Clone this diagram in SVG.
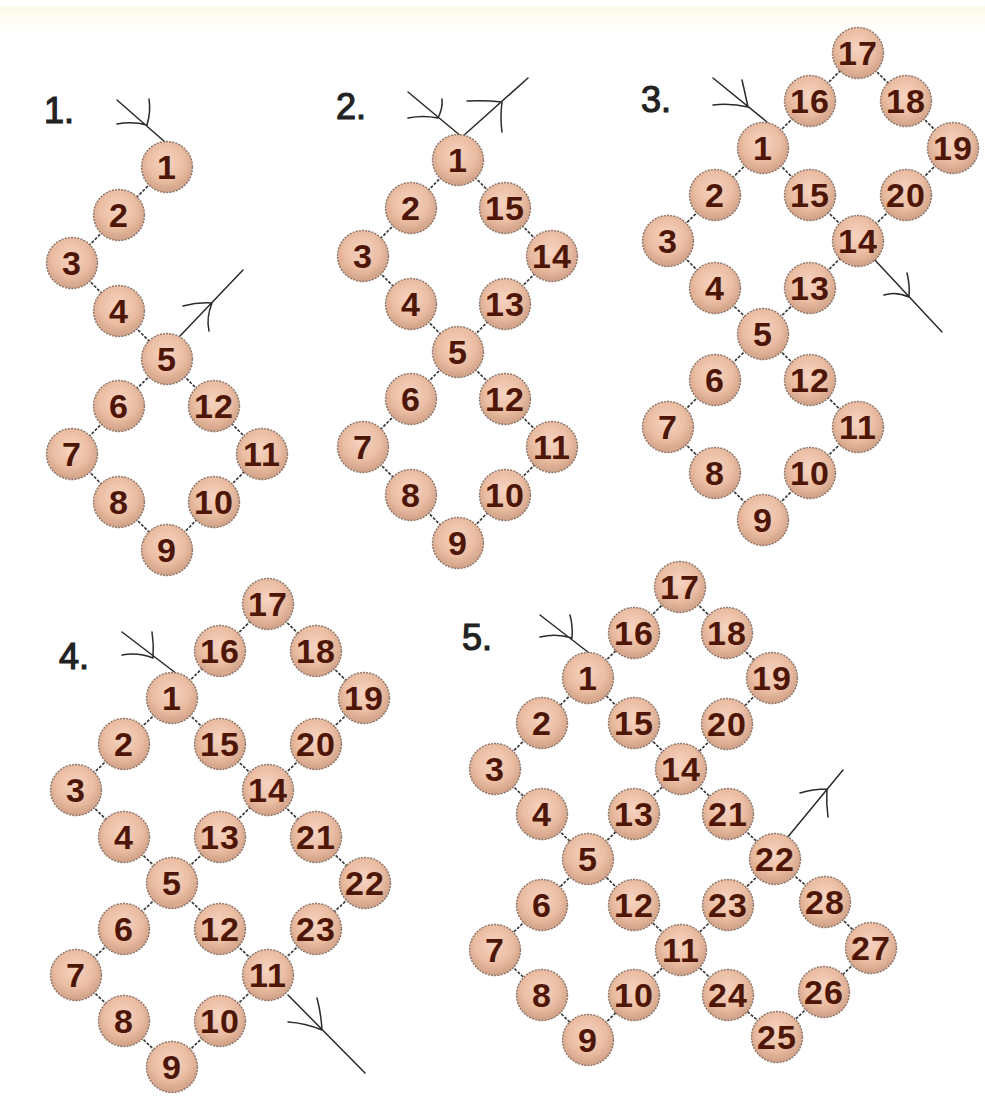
<svg xmlns="http://www.w3.org/2000/svg" width="985" height="1113" viewBox="0 0 985 1113">
<defs>
<radialGradient id="bg" cx="0.48" cy="0.4" r="0.65">
<stop offset="0" stop-color="#f6d4c2"/>
<stop offset="0.55" stop-color="#ebbda3"/>
<stop offset="1" stop-color="#c99a80"/>
</radialGradient>
<linearGradient id="top" x1="0" y1="0" x2="0" y2="1">
<stop offset="0" stop-color="#fdf9e6"/>
<stop offset="1" stop-color="#ffffff"/>
</linearGradient>
</defs>
<style>
.bead circle{fill:url(#bg);stroke:#8a7468;stroke-width:1.4;stroke-dasharray:2 1.2}
.bead text{font-family:"Liberation Sans",Arial,sans-serif;font-weight:bold;font-size:34px;fill:#4e1606;text-anchor:middle;letter-spacing:1px}
.conn line{stroke:#3a3a3a;stroke-width:1.7;stroke-dasharray:3 1.5}
.arr path{stroke:#2a2a2a;stroke-width:1.5;fill:none;stroke-linecap:round}
.lbl{font-family:"Liberation Sans",Arial,sans-serif;font-size:36px;fill:#222;stroke:#222;stroke-width:1.2}
</style>
<rect width="985" height="1113" fill="#ffffff"/>
<rect x="0" y="6" width="985" height="26" fill="url(#top)"/>

<g id="labels">
<text class="lbl" x="44" y="123">1.</text>
<text class="lbl" x="336" y="119">2.</text>
<text class="lbl" x="641" y="112">3.</text>
<text class="lbl" x="59" y="669">4.</text>
<text class="lbl" x="462" y="650">5.</text>
</g>

<g id="connectors" class="conn">
<!-- diagram 1 -->
<line x1="167" y1="167" x2="119" y2="215"/>
<line x1="119" y1="215" x2="72" y2="263"/>
<line x1="72" y1="263" x2="119" y2="311"/>
<line x1="119" y1="311" x2="167" y2="359"/>
<line x1="167" y1="359" x2="119" y2="406"/>
<line x1="119" y1="406" x2="72" y2="454"/>
<line x1="72" y1="454" x2="119" y2="502"/>
<line x1="119" y1="502" x2="167" y2="550"/>
<line x1="167" y1="550" x2="214" y2="502"/>
<line x1="214" y1="502" x2="262" y2="454"/>
<line x1="262" y1="454" x2="214" y2="406"/>
<line x1="214" y1="406" x2="167" y2="359"/>
<!-- diagram 2 -->
<line x1="458" y1="160" x2="411" y2="208"/>
<line x1="411" y1="208" x2="363" y2="256"/>
<line x1="363" y1="256" x2="411" y2="304"/>
<line x1="411" y1="304" x2="458" y2="352"/>
<line x1="458" y1="352" x2="411" y2="399"/>
<line x1="411" y1="399" x2="363" y2="447"/>
<line x1="363" y1="447" x2="411" y2="495"/>
<line x1="411" y1="495" x2="458" y2="543"/>
<line x1="458" y1="543" x2="505" y2="495"/>
<line x1="505" y1="495" x2="552" y2="447"/>
<line x1="552" y1="447" x2="505" y2="399"/>
<line x1="505" y1="399" x2="458" y2="352"/>
<line x1="458" y1="352" x2="505" y2="304"/>
<line x1="505" y1="304" x2="552" y2="256"/>
<line x1="552" y1="256" x2="505" y2="208"/>
<line x1="505" y1="208" x2="458" y2="160"/>
<!-- diagram 3 -->
<line x1="763" y1="148" x2="715" y2="195"/>
<line x1="715" y1="195" x2="668" y2="241"/>
<line x1="668" y1="241" x2="715" y2="288"/>
<line x1="715" y1="288" x2="763" y2="334"/>
<line x1="763" y1="334" x2="715" y2="380"/>
<line x1="715" y1="380" x2="668" y2="427"/>
<line x1="668" y1="427" x2="715" y2="473"/>
<line x1="715" y1="473" x2="763" y2="520"/>
<line x1="763" y1="520" x2="810" y2="473"/>
<line x1="810" y1="473" x2="858" y2="427"/>
<line x1="858" y1="427" x2="810" y2="380"/>
<line x1="810" y1="380" x2="763" y2="334"/>
<line x1="763" y1="334" x2="810" y2="288"/>
<line x1="810" y1="288" x2="858" y2="241"/>
<line x1="858" y1="241" x2="810" y2="195"/>
<line x1="810" y1="195" x2="763" y2="148"/>
<line x1="763" y1="148" x2="810" y2="101"/>
<line x1="810" y1="101" x2="858" y2="53"/>
<line x1="858" y1="53" x2="906" y2="101"/>
<line x1="906" y1="101" x2="953" y2="148"/>
<line x1="953" y1="148" x2="906" y2="195"/>
<line x1="906" y1="195" x2="858" y2="241"/>
<!-- diagram 4 -->
<line x1="172" y1="698" x2="124" y2="744"/>
<line x1="124" y1="744" x2="76" y2="790"/>
<line x1="76" y1="790" x2="124" y2="837"/>
<line x1="124" y1="837" x2="172" y2="883"/>
<line x1="172" y1="883" x2="124" y2="929"/>
<line x1="124" y1="929" x2="76" y2="975"/>
<line x1="76" y1="975" x2="124" y2="1021"/>
<line x1="124" y1="1021" x2="172" y2="1067"/>
<line x1="172" y1="1067" x2="220" y2="1021"/>
<line x1="220" y1="1021" x2="268" y2="975"/>
<line x1="268" y1="975" x2="220" y2="929"/>
<line x1="220" y1="929" x2="172" y2="883"/>
<line x1="172" y1="883" x2="220" y2="837"/>
<line x1="220" y1="837" x2="268" y2="790"/>
<line x1="268" y1="790" x2="220" y2="744"/>
<line x1="220" y1="744" x2="172" y2="698"/>
<line x1="172" y1="698" x2="220" y2="651"/>
<line x1="220" y1="651" x2="268" y2="604"/>
<line x1="268" y1="604" x2="316" y2="651"/>
<line x1="316" y1="651" x2="364" y2="698"/>
<line x1="364" y1="698" x2="316" y2="744"/>
<line x1="316" y1="744" x2="268" y2="790"/>
<line x1="268" y1="790" x2="316" y2="837"/>
<line x1="316" y1="837" x2="365" y2="883"/>
<line x1="365" y1="883" x2="316" y2="929"/>
<line x1="316" y1="929" x2="268" y2="975"/>
<!-- diagram 5 -->
<line x1="588" y1="678" x2="542" y2="723"/>
<line x1="542" y1="723" x2="495" y2="769"/>
<line x1="495" y1="769" x2="542" y2="814"/>
<line x1="542" y1="814" x2="588" y2="859"/>
<line x1="588" y1="859" x2="542" y2="905"/>
<line x1="542" y1="905" x2="495" y2="950"/>
<line x1="495" y1="950" x2="542" y2="995"/>
<line x1="542" y1="995" x2="588" y2="1040"/>
<line x1="588" y1="1040" x2="634" y2="995"/>
<line x1="634" y1="995" x2="681" y2="950"/>
<line x1="681" y1="950" x2="634" y2="905"/>
<line x1="634" y1="905" x2="588" y2="859"/>
<line x1="588" y1="859" x2="634" y2="814"/>
<line x1="634" y1="814" x2="681" y2="769"/>
<line x1="681" y1="769" x2="634" y2="723"/>
<line x1="634" y1="723" x2="588" y2="678"/>
<line x1="588" y1="678" x2="634" y2="633"/>
<line x1="634" y1="633" x2="680" y2="587"/>
<line x1="680" y1="587" x2="727" y2="633"/>
<line x1="727" y1="633" x2="772" y2="678"/>
<line x1="772" y1="678" x2="727" y2="724"/>
<line x1="727" y1="724" x2="681" y2="769"/>
<line x1="681" y1="769" x2="728" y2="814"/>
<line x1="728" y1="814" x2="775" y2="859"/>
<line x1="775" y1="859" x2="728" y2="905"/>
<line x1="728" y1="905" x2="681" y2="950"/>
<line x1="775" y1="859" x2="825" y2="902"/>
<line x1="825" y1="902" x2="871" y2="948"/>
<line x1="871" y1="948" x2="824" y2="992"/>
<line x1="824" y1="992" x2="777" y2="1037"/>
<line x1="777" y1="1037" x2="728" y2="995"/>
<line x1="728" y1="995" x2="681" y2="950"/>
</g>

<g id="arrows" class="arr">
<path d="M117,100 L165,142 M147,125 Q132,121 117,124 M147,125 Q151,112 149,99"/>
<path d="M180,336 L243,270 M212,303 Q198,302 183,306 M212,303 Q206,318 209,331"/>
<path d="M408,92 L462,137 M438,118 Q423,115 408,118 M438,118 Q443,108 442,99"/>
<path d="M462,137 L528,78 M502,102 Q485,100 467,101 M502,102 Q500,118 502,132"/>
<path d="M713,78 L767,122 M748,107 Q731,103 713,105 M748,107 Q745,93 742,80"/>
<path d="M873,258 L942,332 M909,297 Q896,291 884,295 M909,297 Q910,285 907,273"/>
<path d="M122,632 L177,674 M153,658 Q138,652 122,655 M153,658 Q154,645 152,632"/>
<path d="M288,995 L365,1073 M322,1030 Q305,1023 288,1022 M322,1030 Q321,1013 317,998"/>
<path d="M540,615 L593,656 M572,638 Q556,633 540,637 M572,638 Q573,626 570,615"/>
<path d="M787,838 L843,770 M827,789 Q813,789 800,793 M827,789 Q826,803 828,817"/>
</g>

<g id="diagram1">
<g id="d1-n1" class="bead"><circle cx="167" cy="167" r="25.5"/><text x="167" y="179">1</text></g>
<g id="d1-n2" class="bead"><circle cx="119" cy="215" r="25.5"/><text x="119" y="227">2</text></g>
<g id="d1-n3" class="bead"><circle cx="72" cy="263" r="25.5"/><text x="72" y="275">3</text></g>
<g id="d1-n4" class="bead"><circle cx="119" cy="311" r="25.5"/><text x="119" y="323">4</text></g>
<g id="d1-n5" class="bead"><circle cx="167" cy="359" r="25.5"/><text x="167" y="371">5</text></g>
<g id="d1-n6" class="bead"><circle cx="119" cy="406" r="25.5"/><text x="119" y="418">6</text></g>
<g id="d1-n7" class="bead"><circle cx="72" cy="454" r="25.5"/><text x="72" y="466">7</text></g>
<g id="d1-n8" class="bead"><circle cx="119" cy="502" r="25.5"/><text x="119" y="514">8</text></g>
<g id="d1-n9" class="bead"><circle cx="167" cy="550" r="25.5"/><text x="167" y="562">9</text></g>
<g id="d1-n10" class="bead"><circle cx="214" cy="502" r="25.5"/><text x="214" y="514">10</text></g>
<g id="d1-n11" class="bead"><circle cx="262" cy="454" r="25.5"/><text x="262" y="466">11</text></g>
<g id="d1-n12" class="bead"><circle cx="214" cy="406" r="25.5"/><text x="214" y="418">12</text></g>
</g>

<g id="diagram2">
<g id="d2-n1" class="bead"><circle cx="458" cy="160" r="25.5"/><text x="458" y="172">1</text></g>
<g id="d2-n2" class="bead"><circle cx="411" cy="208" r="25.5"/><text x="411" y="220">2</text></g>
<g id="d2-n3" class="bead"><circle cx="363" cy="256" r="25.5"/><text x="363" y="268">3</text></g>
<g id="d2-n4" class="bead"><circle cx="411" cy="304" r="25.5"/><text x="411" y="316">4</text></g>
<g id="d2-n5" class="bead"><circle cx="458" cy="352" r="25.5"/><text x="458" y="364">5</text></g>
<g id="d2-n6" class="bead"><circle cx="411" cy="399" r="25.5"/><text x="411" y="411">6</text></g>
<g id="d2-n7" class="bead"><circle cx="363" cy="447" r="25.5"/><text x="363" y="459">7</text></g>
<g id="d2-n8" class="bead"><circle cx="411" cy="495" r="25.5"/><text x="411" y="507">8</text></g>
<g id="d2-n9" class="bead"><circle cx="458" cy="543" r="25.5"/><text x="458" y="555">9</text></g>
<g id="d2-n10" class="bead"><circle cx="505" cy="495" r="25.5"/><text x="505" y="507">10</text></g>
<g id="d2-n11" class="bead"><circle cx="552" cy="447" r="25.5"/><text x="552" y="459">11</text></g>
<g id="d2-n12" class="bead"><circle cx="505" cy="399" r="25.5"/><text x="505" y="411">12</text></g>
<g id="d2-n13" class="bead"><circle cx="505" cy="304" r="25.5"/><text x="505" y="316">13</text></g>
<g id="d2-n14" class="bead"><circle cx="552" cy="256" r="25.5"/><text x="552" y="268">14</text></g>
<g id="d2-n15" class="bead"><circle cx="505" cy="208" r="25.5"/><text x="505" y="220">15</text></g>
</g>

<g id="diagram3">
<g id="d3-n1" class="bead"><circle cx="763" cy="148" r="25.5"/><text x="763" y="160">1</text></g>
<g id="d3-n2" class="bead"><circle cx="715" cy="195" r="25.5"/><text x="715" y="207">2</text></g>
<g id="d3-n3" class="bead"><circle cx="668" cy="241" r="25.5"/><text x="668" y="253">3</text></g>
<g id="d3-n4" class="bead"><circle cx="715" cy="288" r="25.5"/><text x="715" y="300">4</text></g>
<g id="d3-n5" class="bead"><circle cx="763" cy="334" r="25.5"/><text x="763" y="346">5</text></g>
<g id="d3-n6" class="bead"><circle cx="715" cy="380" r="25.5"/><text x="715" y="392">6</text></g>
<g id="d3-n7" class="bead"><circle cx="668" cy="427" r="25.5"/><text x="668" y="439">7</text></g>
<g id="d3-n8" class="bead"><circle cx="715" cy="473" r="25.5"/><text x="715" y="485">8</text></g>
<g id="d3-n9" class="bead"><circle cx="763" cy="520" r="25.5"/><text x="763" y="532">9</text></g>
<g id="d3-n10" class="bead"><circle cx="810" cy="473" r="25.5"/><text x="810" y="485">10</text></g>
<g id="d3-n11" class="bead"><circle cx="858" cy="427" r="25.5"/><text x="858" y="439">11</text></g>
<g id="d3-n12" class="bead"><circle cx="810" cy="380" r="25.5"/><text x="810" y="392">12</text></g>
<g id="d3-n13" class="bead"><circle cx="810" cy="288" r="25.5"/><text x="810" y="300">13</text></g>
<g id="d3-n14" class="bead"><circle cx="858" cy="241" r="25.5"/><text x="858" y="253">14</text></g>
<g id="d3-n15" class="bead"><circle cx="810" cy="195" r="25.5"/><text x="810" y="207">15</text></g>
<g id="d3-n16" class="bead"><circle cx="810" cy="101" r="25.5"/><text x="810" y="113">16</text></g>
<g id="d3-n17" class="bead"><circle cx="858" cy="53" r="25.5"/><text x="858" y="65">17</text></g>
<g id="d3-n18" class="bead"><circle cx="906" cy="101" r="25.5"/><text x="906" y="113">18</text></g>
<g id="d3-n19" class="bead"><circle cx="953" cy="148" r="25.5"/><text x="953" y="160">19</text></g>
<g id="d3-n20" class="bead"><circle cx="906" cy="195" r="25.5"/><text x="906" y="207">20</text></g>
</g>

<g id="diagram4">
<g id="d4-n1" class="bead"><circle cx="172" cy="698" r="25.5"/><text x="172" y="710">1</text></g>
<g id="d4-n2" class="bead"><circle cx="124" cy="744" r="25.5"/><text x="124" y="756">2</text></g>
<g id="d4-n3" class="bead"><circle cx="76" cy="790" r="25.5"/><text x="76" y="802">3</text></g>
<g id="d4-n4" class="bead"><circle cx="124" cy="837" r="25.5"/><text x="124" y="849">4</text></g>
<g id="d4-n5" class="bead"><circle cx="172" cy="883" r="25.5"/><text x="172" y="895">5</text></g>
<g id="d4-n6" class="bead"><circle cx="124" cy="929" r="25.5"/><text x="124" y="941">6</text></g>
<g id="d4-n7" class="bead"><circle cx="76" cy="975" r="25.5"/><text x="76" y="987">7</text></g>
<g id="d4-n8" class="bead"><circle cx="124" cy="1021" r="25.5"/><text x="124" y="1033">8</text></g>
<g id="d4-n9" class="bead"><circle cx="172" cy="1067" r="25.5"/><text x="172" y="1079">9</text></g>
<g id="d4-n10" class="bead"><circle cx="220" cy="1021" r="25.5"/><text x="220" y="1033">10</text></g>
<g id="d4-n11" class="bead"><circle cx="268" cy="975" r="25.5"/><text x="268" y="987">11</text></g>
<g id="d4-n12" class="bead"><circle cx="220" cy="929" r="25.5"/><text x="220" y="941">12</text></g>
<g id="d4-n13" class="bead"><circle cx="220" cy="837" r="25.5"/><text x="220" y="849">13</text></g>
<g id="d4-n14" class="bead"><circle cx="268" cy="790" r="25.5"/><text x="268" y="802">14</text></g>
<g id="d4-n15" class="bead"><circle cx="220" cy="744" r="25.5"/><text x="220" y="756">15</text></g>
<g id="d4-n16" class="bead"><circle cx="220" cy="651" r="25.5"/><text x="220" y="663">16</text></g>
<g id="d4-n17" class="bead"><circle cx="268" cy="604" r="25.5"/><text x="268" y="616">17</text></g>
<g id="d4-n18" class="bead"><circle cx="316" cy="651" r="25.5"/><text x="316" y="663">18</text></g>
<g id="d4-n19" class="bead"><circle cx="364" cy="698" r="25.5"/><text x="364" y="710">19</text></g>
<g id="d4-n20" class="bead"><circle cx="316" cy="744" r="25.5"/><text x="316" y="756">20</text></g>
<g id="d4-n21" class="bead"><circle cx="316" cy="837" r="25.5"/><text x="316" y="849">21</text></g>
<g id="d4-n22" class="bead"><circle cx="365" cy="883" r="25.5"/><text x="365" y="895">22</text></g>
<g id="d4-n23" class="bead"><circle cx="316" cy="929" r="25.5"/><text x="316" y="941">23</text></g>
</g>

<g id="diagram5">
<g id="d5-n1" class="bead"><circle cx="588" cy="678" r="25.5"/><text x="588" y="690">1</text></g>
<g id="d5-n2" class="bead"><circle cx="542" cy="723" r="25.5"/><text x="542" y="735">2</text></g>
<g id="d5-n3" class="bead"><circle cx="495" cy="769" r="25.5"/><text x="495" y="781">3</text></g>
<g id="d5-n4" class="bead"><circle cx="542" cy="814" r="25.5"/><text x="542" y="826">4</text></g>
<g id="d5-n5" class="bead"><circle cx="588" cy="859" r="25.5"/><text x="588" y="871">5</text></g>
<g id="d5-n6" class="bead"><circle cx="542" cy="905" r="25.5"/><text x="542" y="917">6</text></g>
<g id="d5-n7" class="bead"><circle cx="495" cy="950" r="25.5"/><text x="495" y="962">7</text></g>
<g id="d5-n8" class="bead"><circle cx="542" cy="995" r="25.5"/><text x="542" y="1007">8</text></g>
<g id="d5-n9" class="bead"><circle cx="588" cy="1040" r="25.5"/><text x="588" y="1052">9</text></g>
<g id="d5-n10" class="bead"><circle cx="634" cy="995" r="25.5"/><text x="634" y="1007">10</text></g>
<g id="d5-n11" class="bead"><circle cx="681" cy="950" r="25.5"/><text x="681" y="962">11</text></g>
<g id="d5-n12" class="bead"><circle cx="634" cy="905" r="25.5"/><text x="634" y="917">12</text></g>
<g id="d5-n13" class="bead"><circle cx="634" cy="814" r="25.5"/><text x="634" y="826">13</text></g>
<g id="d5-n14" class="bead"><circle cx="681" cy="769" r="25.5"/><text x="681" y="781">14</text></g>
<g id="d5-n15" class="bead"><circle cx="634" cy="723" r="25.5"/><text x="634" y="735">15</text></g>
<g id="d5-n16" class="bead"><circle cx="634" cy="633" r="25.5"/><text x="634" y="645">16</text></g>
<g id="d5-n17" class="bead"><circle cx="680" cy="587" r="25.5"/><text x="680" y="599">17</text></g>
<g id="d5-n18" class="bead"><circle cx="727" cy="633" r="25.5"/><text x="727" y="645">18</text></g>
<g id="d5-n19" class="bead"><circle cx="772" cy="678" r="25.5"/><text x="772" y="690">19</text></g>
<g id="d5-n20" class="bead"><circle cx="727" cy="724" r="25.5"/><text x="727" y="736">20</text></g>
<g id="d5-n21" class="bead"><circle cx="728" cy="814" r="25.5"/><text x="728" y="826">21</text></g>
<g id="d5-n22" class="bead"><circle cx="775" cy="859" r="25.5"/><text x="775" y="871">22</text></g>
<g id="d5-n23" class="bead"><circle cx="728" cy="905" r="25.5"/><text x="728" y="917">23</text></g>
<g id="d5-n24" class="bead"><circle cx="728" cy="995" r="25.5"/><text x="728" y="1007">24</text></g>
<g id="d5-n25" class="bead"><circle cx="777" cy="1037" r="25.5"/><text x="777" y="1049">25</text></g>
<g id="d5-n26" class="bead"><circle cx="824" cy="992" r="25.5"/><text x="824" y="1004">26</text></g>
<g id="d5-n27" class="bead"><circle cx="871" cy="948" r="25.5"/><text x="871" y="960">27</text></g>
<g id="d5-n28" class="bead"><circle cx="825" cy="902" r="25.5"/><text x="825" y="914">28</text></g>
</g>
</svg>
